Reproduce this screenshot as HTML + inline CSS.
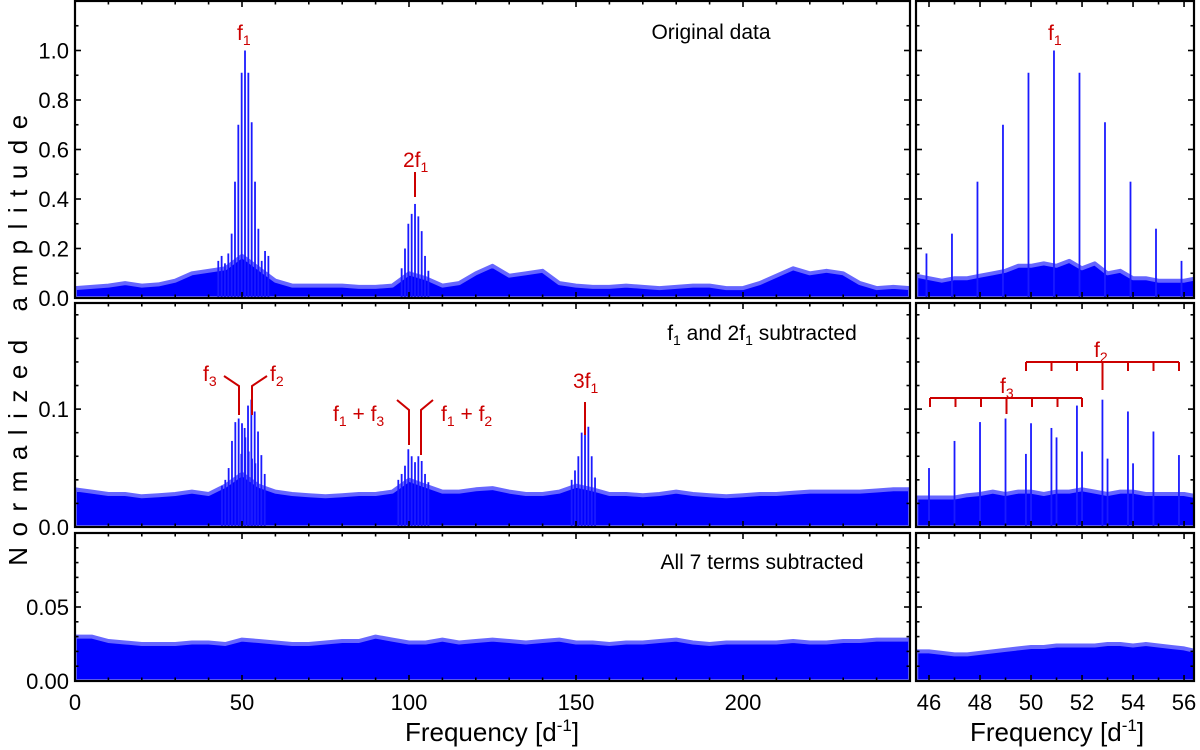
<!DOCTYPE html>
<html><head><meta charset="utf-8"><style>
body{margin:0;background:#fff;}
svg{display:block;font-family:"Liberation Sans",Arial,sans-serif;}
</style></head><body>
<svg id="chart" width="1200" height="750" viewBox="0 0 1200 750"></svg>
<script>
// ---- data ----
const envFreqL = [0,5,10,15,20,25,30,35,40,45,50,55,60,65,70,75,80,85,90,95,100,105,110,115,120,125,130,135,140,145,150,155,160,165,170,175,180,185,190,195,200,205,210,215,220,225,230,235,240,245,250];
const envTopL = [0.04,0.045,0.05,0.06,0.05,0.055,0.07,0.1,0.11,0.12,0.17,0.12,0.07,0.05,0.05,0.05,0.05,0.045,0.045,0.05,0.1,0.08,0.05,0.06,0.1,0.13,0.09,0.1,0.11,0.06,0.05,0.045,0.045,0.05,0.045,0.04,0.045,0.05,0.05,0.04,0.04,0.06,0.09,0.12,0.1,0.11,0.1,0.06,0.04,0.045,0.04];
const envMidL = [0.032,0.03,0.028,0.028,0.026,0.027,0.028,0.03,0.028,0.035,0.045,0.035,0.03,0.028,0.027,0.026,0.027,0.028,0.028,0.03,0.04,0.035,0.03,0.03,0.032,0.033,0.03,0.028,0.028,0.03,0.035,0.032,0.028,0.028,0.027,0.028,0.03,0.028,0.027,0.026,0.027,0.028,0.028,0.029,0.03,0.03,0.03,0.03,0.031,0.032,0.032];
const envBotL = [0.03,0.03,0.027,0.026,0.025,0.025,0.025,0.026,0.026,0.025,0.028,0.027,0.026,0.025,0.025,0.026,0.027,0.027,0.03,0.028,0.026,0.026,0.028,0.026,0.027,0.028,0.027,0.026,0.027,0.028,0.026,0.026,0.025,0.026,0.026,0.027,0.028,0.026,0.025,0.026,0.026,0.026,0.026,0.027,0.026,0.026,0.027,0.027,0.028,0.028,0.028];
const envFreqR = [45.5,46,46.5,47,47.5,48,48.5,49,49.5,50,50.5,51,51.5,52,52.5,53,53.5,54,54.5,55,55.5,56,56.5];
const envTopR = [0.09,0.08,0.07,0.08,0.08,0.09,0.1,0.11,0.13,0.13,0.14,0.13,0.15,0.12,0.14,0.1,0.11,0.08,0.08,0.07,0.07,0.07,0.08];
const envMidR = [0.025,0.025,0.025,0.025,0.027,0.028,0.03,0.028,0.03,0.03,0.028,0.03,0.03,0.032,0.03,0.028,0.03,0.03,0.028,0.028,0.028,0.028,0.026];
const envBotR = [0.02,0.02,0.019,0.018,0.018,0.019,0.02,0.021,0.022,0.023,0.023,0.024,0.024,0.024,0.024,0.025,0.025,0.024,0.025,0.024,0.023,0.022,0.02];
const peakTopFreq = [42.9,43.9,44.9,45.9,46.9,47.9,48.9,49.9,50.9,51.9,52.9,53.9,54.9,55.9,56.9,57.9,97.8,98.8,99.8,100.8,101.8,102.8,103.8,104.8,105.8];
const peakTopAmp  = [0.15,0.17,0.14,0.18,0.26,0.47,0.70,0.91,1.0,0.91,0.71,0.47,0.28,0.15,0.19,0.17,0.12,0.2,0.3,0.34,0.38,0.33,0.27,0.17,0.11];
const peakMidFreq = [44.0,45.0,46.0,47.0,48.0,49.0,49.8,50.0,50.8,51.0,51.8,52.0,52.8,53.0,53.8,54.0,54.8,55.8,56.8,96.8,97.8,98.8,99.8,100.8,101.8,102.8,103.8,104.8,105.8,148.7,149.7,150.7,151.7,152.7,153.7,154.7,155.7];
const peakMidAmp  = [0.035,0.04,0.05,0.073,0.089,0.092,0.062,0.088,0.084,0.076,0.103,0.064,0.108,0.058,0.098,0.054,0.081,0.061,0.045,0.04,0.045,0.052,0.066,0.06,0.055,0.06,0.056,0.045,0.038,0.04,0.048,0.06,0.08,0.095,0.085,0.06,0.042];
const yTickTop = ["0.0","0.2","0.4","0.6","0.8","1.0"];
const yTickMid = ["0.0","0.1"];
const yTickBot = ["0.00","0.05"];
const xTickL = ["0","50","100","150","200"];
const xTickR = ["46","48","50","52","54","56"];

const svg = document.getElementById('chart');
const NS = 'http://www.w3.org/2000/svg';
function mk(tag, attrs, parent){const e=document.createElementNS(NS,tag);for(const k in attrs)e.setAttribute(k,attrs[k]);(parent||svg).appendChild(e);return e;}

function panel(name, px0,px1,py0,py1, xmin,xmax,ymin,ymax, xmaj,xmin_,ymaj,ymin_, envF, envV, pF, pA, yLabels, xLabels, xLabelStart){
  const g = mk('g',{});
  
  
  const sx = v => px0 + (v-xmin)/(xmax-xmin)*(px1-px0);
  const sy = v => py1 - (v-ymin)/(ymax-ymin)*(py1-py0);
  const cid = name+'-clip';
  const cp = mk('clipPath',{id:cid},g); mk('rect',{x:px0,y:py0,width:px1-px0,height:py1-py0},cp);
  const dg = mk('g',{'clip-path':'url(#'+cid+')'},g);
  let d = 'M'+sx(envF[0])+','+py1;
  for(let i=0;i<envF.length;i++) d += ' L'+sx(envF[i]).toFixed(1)+','+sy(envV[i]).toFixed(1);
  d += ' L'+sx(envF[envF.length-1])+','+py1+' Z';
  const area = mk('path',{d:d,fill:'#0000ff',stroke:'#6666ff','stroke-width':4,'stroke-linejoin':'round'},dg);
  
  
  for(let i=0;i<pF.length;i++){
    if(pF[i]<xmin||pF[i]>xmax) continue;
    const l = mk('line',{x1:sx(pF[i]),x2:sx(pF[i]),y1:py1,y2:sy(pA[i]),stroke:'#1a1aff','stroke-width':1.8},dg);
    
    
  }
  const tk = mk('g',{stroke:'#000','stroke-width':1.6},g);
  for(let v=xmin_*Math.ceil(xmin/xmin_-1e-9); v<=xmax+1e-9; v+=xmin_){
    const x=sx(v); const maj = Math.abs(v/xmaj-Math.round(v/xmaj))<1e-6; const L=maj?6:3.5;
    mk('line',{x1:x,x2:x,y1:py1,y2:py1-L},tk); mk('line',{x1:x,x2:x,y1:py0,y2:py0+L},tk);
  }
  for(let v=ymin; v<=ymax+1e-9; v+=ymin_){
    const y=sy(v); const maj = Math.abs(v/ymaj-Math.round(v/ymaj))<1e-6; const L=maj?6:3.5;
    mk('line',{x1:px0,x2:px0+L,y1:y,y2:y},tk); mk('line',{x1:px1,x2:px1-L,y1:y,y2:y},tk);
  }
  const fr = mk('rect',{x:px0,y:py0,width:px1-px0,height:py1-py0,fill:'none',stroke:'#000','stroke-width':2.2},g);
  
  
  if(yLabels){
    yLabels.forEach((t,i)=>{
      const tx = mk('text',{x:px0-6,y:sy(ymin+i*ymaj)+8,'text-anchor':'end','font-size':22},g); tx.textContent=t;
      
      
    });
  }
  if(xLabels){
    xLabels.forEach((t,i)=>{
      const tx = mk('text',{x:sx(xLabelStart+i*xmaj),y:py1+29,'text-anchor':'middle','font-size':22},g); tx.textContent=t;
      
      
    });
  }
  return {sx,sy};
}

panel('top-left-panel',75,910,1,298, 0,250,0,1.2, 50,10,0.2,0.1, envFreqL,envTopL,peakTopFreq,peakTopAmp, yTickTop,null);
panel('middle-left-panel',75,910,303,527, 0,250,0,0.19, 50,10,0.1,0.02, envFreqL,envMidL,peakMidFreq,peakMidAmp, yTickMid,null);
panel('bottom-left-panel',75,910,533,681, 0,250,0,0.1, 50,10,0.05,0.01, envFreqL,envBotL,[],[], yTickBot,xTickL,0);
panel('top-right-panel',916,1194,1,298, 45.49,56.39,0,1.2, 2,1,0.2,0.1, envFreqR,envTopR,peakTopFreq,peakTopAmp, null,null);
panel('middle-right-panel',916,1194,303,527, 45.49,56.39,0,0.19, 2,1,0.1,0.02, envFreqR,envMidR,peakMidFreq,peakMidAmp, null,null);
panel('bottom-right-panel',916,1194,533,681, 45.49,56.39,0,0.1, 2,1,0.05,0.01, envFreqR,envBotR,[],[], null,xTickR,46);
</script>
<svg width="1200" height="750" style="position:absolute;left:0;top:0" font-family="Liberation Sans, Arial, sans-serif">
  <g fill="#cc0000" font-size="21">
    <text x="237" y="40">f<tspan font-size="14" dy="5">1</tspan></text>
    <text x="403" y="167">2f<tspan font-size="14" dy="5">1</tspan></text>
    <text x="1048" y="40">f<tspan font-size="14" dy="5">1</tspan></text>
    <text x="203" y="381">f<tspan font-size="14" dy="5">3</tspan></text>
    <text x="270" y="381">f<tspan font-size="14" dy="5">2</tspan></text>
    <text x="333" y="421">f<tspan font-size="14" dy="5">1</tspan><tspan dy="-5"> + f</tspan><tspan font-size="14" dy="5">3</tspan></text>
    <text x="441" y="421">f<tspan font-size="14" dy="5">1</tspan><tspan dy="-5"> + f</tspan><tspan font-size="14" dy="5">2</tspan></text>
    <text x="573" y="388">3f<tspan font-size="14" dy="5">1</tspan></text>
    <text x="1000" y="393">f<tspan font-size="14" dy="5">3</tspan></text>
    <text x="1094" y="357">f<tspan font-size="14" dy="5">2</tspan></text>
  </g>
  <g stroke="#cc0000" stroke-width="2" fill="none">
    <line x1="415" y1="172" x2="415" y2="197"/>
    <polyline points="224,376 239,386 239,415"/>
    <polyline points="267,376 252,386 252,415"/>
    <polyline points="397,400 409,410 409,445"/>
    <polyline points="433,400 421,410 421,455"/>
    <line x1="585" y1="402" x2="585" y2="435"/>
    <line x1="930" y1="398" x2="1082" y2="398"/>
    <path d="M930,398v9M955.5,398v9M981,398v9M1006.5,398v16M1032,398v9M1057.5,398v9M1082,398v9"/>
    <line x1="1026" y1="362" x2="1179" y2="362"/>
    <path d="M1026,362v9M1051.5,362v9M1077,362v9M1102.5,362v28M1128,362v9M1153.5,362v9M1179,362v9"/>
  </g>
  <g font-size="21" fill="#000">
    <text x="711" y="39" text-anchor="middle">Original data</text>
    <text x="762" y="340" text-anchor="middle">f<tspan font-size="14" dy="5">1</tspan><tspan dy="-5"> and 2f</tspan><tspan font-size="14" dy="5">1</tspan><tspan dy="-5"> subtracted</tspan></text>
    <text x="762" y="569" text-anchor="middle">All 7 terms subtracted</text>
  </g>
  <text x="492" y="741" text-anchor="middle" font-size="26">Frequency [d<tspan font-size="17" dy="-10">-1</tspan><tspan dy="10">]</tspan></text>
  <text x="1057" y="741" text-anchor="middle" font-size="26">Frequency [d<tspan font-size="17" dy="-10">-1</tspan><tspan dy="10">]</tspan></text>
  <text transform="translate(27,335) rotate(-90)" text-anchor="middle" font-size="26" letter-spacing="10.5">Normalized  amplitude</text>
</svg>
</body></html>
